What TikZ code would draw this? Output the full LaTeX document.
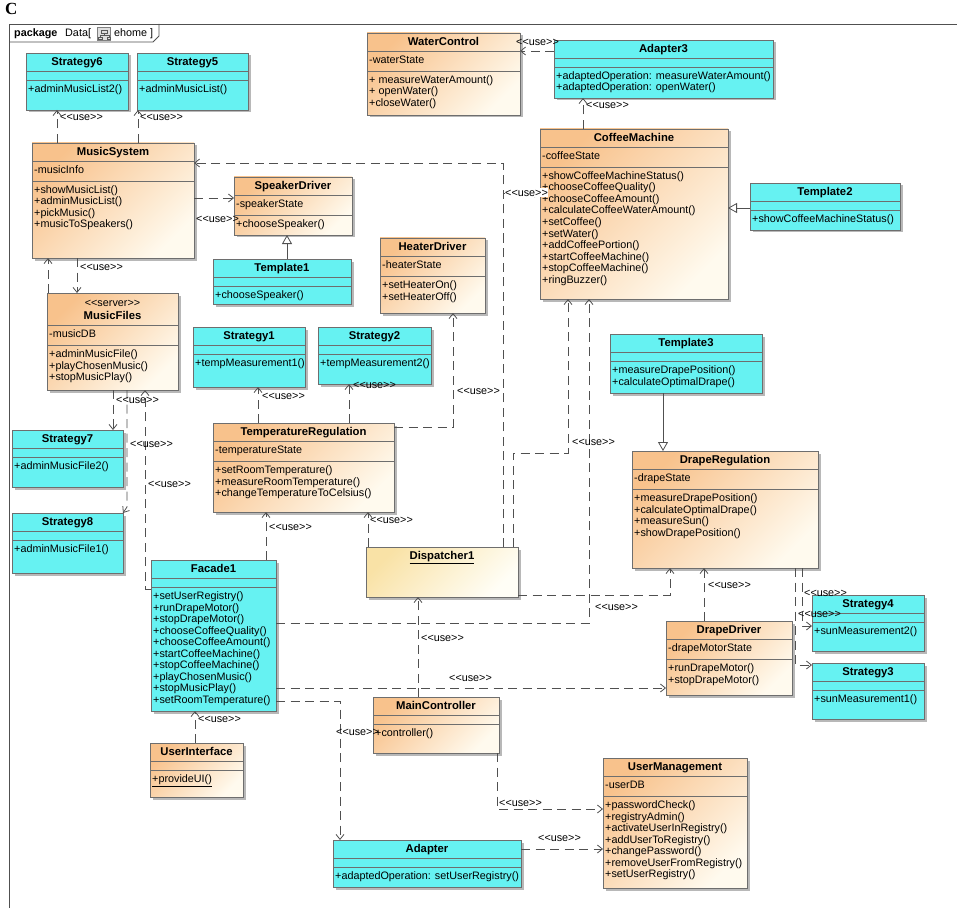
\documentclass[tikz,border=0pt]{standalone}
\usepackage{fontspec}
\newfontfamily\ufont{Liberation Sans}
\newfontfamily\cfont{Liberation Serif}
\usetikzlibrary{arrows.meta,shadows,calc}
\definecolor{ucyan}{HTML}{66F2F2}
\definecolor{uorA}{HTML}{F8C28C}
\definecolor{uorB}{HTML}{FFFAEE}
\definecolor{udA}{HTML}{F9E2A6}
\definecolor{udB}{HTML}{FFFEF6}
\definecolor{bordc}{HTML}{6E6E6E}
\definecolor{linec}{HTML}{505050}
\tikzset{
  boxbase/.style={draw=bordc, line width=0.8pt, inner sep=0pt, outer sep=0pt, anchor=north west,
    drop shadow={shadow xshift=2.5pt, shadow yshift=-2.5pt, fill=black, opacity=0.28}},
  cyanbox/.style={boxbase, fill=ucyan},
  orangebox/.style={boxbase, left color=uorA, right color=uorB, shading angle=45},
  dispbox/.style={boxbase, left color=udA, right color=udB, shading angle=45},
  ttl/.style={inner sep=0pt, font=\ufont\bfseries\fontsize{11.3}{11.5}\selectfont, text height=8pt, text depth=1pt},
  txt/.style={inner sep=0pt, anchor=west, font=\ufont\fontsize{10.8}{11.5}\selectfont, text height=8pt, text depth=1pt},
  lbl/.style={txt},
  sepline/.style={draw=bordc, line width=0.7pt},
  frame/.style={draw=linec, line width=0.9pt},
  dep/.style={draw=linec, line width=0.8pt, dash pattern=on 9pt off 5.5pt, -{Straight Barb[length=5pt,width=8pt]}},
  gen/.style={draw=linec, line width=0.8pt, -{Triangle[open, length=9pt, width=10pt, fill=white]}},
}
\def\ushift{0}
% name, style, x1, y1, x2, y2, title, attribute, operations
\newcommand\uclass[9]{%
  \node[#2, minimum width={(#5-#3)*1pt}, minimum height={(#6-#4)*1pt}] (#1) at (#3,#4) {};
  \node[ttl] (#1-t) at ({(#3+#5)/2},{#4+9+\ushift}) {#7};
  \draw[sepline] (#3,{#4+18+\ushift}) -- (#5,{#4+18+\ushift});
  \if\relax\detokenize{#8}\relax
    \def\usep{27}\def\uop{36}%
  \else
    \node[txt] (#1-a) at ({#3+2},{#4+27+\ushift}) {#8};
    \def\usep{38.5}\def\uop{47}%
  \fi
  \draw[sepline] (#3,{#4+\usep+\ushift}) -- (#5,{#4+\usep+\ushift});
  \foreach \opl [count=\i] in {#9} {\node[txt] (#1-o\i) at ({#3+2},{#4+\uop+\ushift+11.5*(\i-1)}) {\opl};}
}
\begin{document}
\begin{tikzpicture}[x=1pt, y=-1pt]
\useasboundingbox (0,0) rectangle (960,909);
\fill[white] (0,0) rectangle (960,909);
% header
\node[anchor=base west, inner sep=0pt, font=\cfont\bfseries\fontsize{17}{17}\selectfont] (hdr) at (5,15) {C};
\draw[frame] (9,908) -- (9,24) -- (957,24);
\draw[frame] (9,42) -- (153,42) -- (159,36) -- (159,24);
\node[txt] (pk) at (14,33) {\bfseries package};
\node[txt] (pkd) at (65,33) {Data[};
\node[draw=gray, fill=gray!25, line width=0.5pt, anchor=north west, minimum width=13pt, minimum height=13pt, inner sep=0pt] (pkicon) at (97,27) {};
\draw[gray!70!black, line width=0.5pt] (101,30) rectangle (107,33) (104,33) -- (104,35) (100,35) -- (109,35) (100,35) -- (100,37) (109,35) -- (109,37) (98.5,37) rectangle (102,39.5) (107.5,37) rectangle (110.5,39.5);
\node[txt] (pke) at (114,33) {ehome ]};

% classes
\uclass{Strategy6}{cyanbox}{26}{53}{128}{110}{Strategy6}{}{+adminMusicList2()}
\uclass{Strategy5}{cyanbox}{137}{53}{248}{110}{Strategy5}{}{+adminMusicList()}
\uclass{MusicSystem}{orangebox}{32}{143}{194}{258}{MusicSystem}{-musicInfo}{+showMusicList(),+adminMusicList(),+pickMusic(),+musicToSpeakers()}
\uclass{SpeakerDriver}{orangebox}{234}{177}{352}{235}{SpeakerDriver}{-speakerState}{+chooseSpeaker()}
\uclass{Template1}{cyanbox}{213}{259}{351}{304}{Template1}{}{+chooseSpeaker()}
\def\ushift{14}
\uclass{MusicFiles}{orangebox}{47}{293}{178}{390}{MusicFiles}{-musicDB}{+adminMusicFile(),+playChosenMusic(),+stopMusicPlay()}
\def\ushift{0}
\node[txt, anchor=center] (MusicFiles-st) at (112.5,303) {<<server>>};
\uclass{HeaterDriver}{orangebox}{380}{238}{485}{313}{HeaterDriver}{-heaterState}{+setHeaterOn(),+setHeaterOff()}
\uclass{Strategy1}{cyanbox}{193}{327}{305}{387}{Strategy1}{}{+tempMeasurement1()}
\uclass{Strategy2}{cyanbox}{318}{327}{431}{384}{Strategy2}{}{+tempMeasurement2()}
\uclass{TemperatureRegulation}{orangebox}{213}{423}{394}{512}{TemperatureRegulation}{-temperatureState}{+setRoomTemperature(),+measureRoomTemperature(),+changeTemperatureToCelsius()}
\uclass{Strategy7}{cyanbox}{12}{430}{123}{487}{Strategy7}{}{+adminMusicFile2()}
\uclass{Strategy8}{cyanbox}{12}{513}{123}{573}{Strategy8}{}{+adminMusicFile1()}
\uclass{Facade1}{cyanbox}{151}{560}{276}{711}{Facade1}{}{+setUserRegistry(),+runDrapeMotor(),+stopDrapeMotor(),+chooseCoffeeQuality(),+chooseCoffeeAmount(),+startCoffeeMachine(),+stopCoffeeMachine(),+playChosenMusic(),+stopMusicPlay(),+setRoomTemperature()}
\uclass{WaterControl}{orangebox}{367}{33}{520}{115}{WaterControl}{-waterState}{+ measureWaterAmount(),+ openWater(),+closeWater()}
\uclass{Adapter3}{cyanbox}{554}{40}{773}{98}{Adapter3}{}{+adaptedOperation: measureWaterAmount(),+adaptedOperation: openWater()}
\uclass{CoffeeMachine}{orangebox}{540}{129}{728}{299}{CoffeeMachine}{-coffeeState}{+showCoffeeMachineStatus(),+chooseCoffeeQuality(),+chooseCoffeeAmount(),+calculateCoffeeWaterAmount(),+setCoffee(),+setWater(),+addCoffeePortion(),+startCoffeeMachine(),+stopCoffeeMachine(),+ringBuzzer()}
\uclass{Template2}{cyanbox}{750}{183}{900}{230}{Template2}{}{+showCoffeeMachineStatus()}
\uclass{Template3}{cyanbox}{610}{334}{762}{393}{Template3}{}{+measureDrapePosition(),+calculateOptimalDrape()}
\uclass{DrapeRegulation}{orangebox}{632}{451}{818}{568}{DrapeRegulation}{-drapeState}{+measureDrapePosition(),+calculateOptimalDrape(),+measureSun(),+showDrapePosition()}
\node[dispbox, minimum width=152pt, minimum height=50pt] (Dispatcher1) at (366,547) {};
\node[ttl] (Dispatcher1-t) at (442,556) {\underline{Dispatcher1}};
\uclass{DrapeDriver}{orangebox}{666}{621}{792}{695}{DrapeDriver}{-drapeMotorState}{+runDrapeMotor(),+stopDrapeMotor()}
\uclass{Strategy4}{cyanbox}{812}{595}{924}{651}{Strategy4}{}{+sunMeasurement2()}
\uclass{Strategy3}{cyanbox}{812}{663}{924}{719}{Strategy3}{}{+sunMeasurement1()}
\uclass{MainController}{orangebox}{373}{697}{499}{753}{MainController}{}{+controller()}
\uclass{UserInterface}{orangebox}{150}{743}{243}{797}{UserInterface}{}{\underline{+provideUI()}}
\uclass{UserManagement}{orangebox}{603}{758}{747}{888}{UserManagement}{-userDB}{+passwordCheck(),+registryAdmin(),+activateUserInRegistry(),+addUserToRegistry(),+changePassword(),+removeUserFromRegistry(),+setUserRegistry()}
\uclass{Adapter}{cyanbox}{333}{840}{521}{887}{Adapter}{}{+adaptedOperation: setUserRegistry()}

% connectors
\draw[dep] ([xshift=25pt]MusicSystem.north west) -- ([xshift=31pt]Strategy6.south west);
\draw[dep] ([xshift=106pt]MusicSystem.north west) -- ([xshift=1pt]Strategy5.south west);
\draw[dep] ([yshift=-55pt]MusicSystem.north east) -- ([yshift=-21pt]SpeakerDriver.north west);
\draw[gen] ([xshift=74pt]Template1.north west) -- ([xshift=53pt]SpeakerDriver.south west);
\draw[dep] ([xshift=45pt]MusicSystem.south west) -- ([xshift=30pt]MusicFiles.north west);
\draw[dep] ([xshift=1pt]MusicFiles.north west) -- ([xshift=16pt]MusicSystem.south west);
\draw[dep] ([xshift=66pt]MusicFiles.south west) -- ([xshift=101pt]Strategy7.north west);
\draw[dep] ([xshift=80pt]MusicFiles.south west) -- ++(0,117) -- (Strategy8.north east);
\draw[dep] ([yshift=-29pt]Facade1.north west) -| ([xshift=98pt]MusicFiles.south west);
\draw[dep] ([xshift=115pt]Facade1.north west) -- ([xshift=53pt]TemperatureRegulation.south west);
\draw[dep] ([xshift=45pt]TemperatureRegulation.north west) -- ([xshift=65pt]Strategy1.south west);
\draw[dep] ([xshift=136pt]TemperatureRegulation.north west) -- ([xshift=31pt]Strategy2.south west);
\draw[dep] ([yshift=-4pt]TemperatureRegulation.north east) -| ([xshift=73pt]HeaterDriver.south west);
\draw[dep] ([xshift=2pt]Dispatcher1.north west) -- ([xshift=155pt]TemperatureRegulation.south west);
\draw[dep] ([xshift=137pt]Dispatcher1.north west) |- ([yshift=-20pt]MusicSystem.north east);
\draw[dep] ([xshift=137pt]Dispatcher1.north west) |- ([yshift=-64pt]CoffeeMachine.north west);
\draw[dep] ([xshift=147pt]Dispatcher1.north west) -- ++(0,-94) -| ([xshift=28pt]CoffeeMachine.south west);
\draw[dep] ([yshift=-63pt]Facade1.north east) -| ([xshift=49pt]CoffeeMachine.south west);
\draw[dep] ([yshift=-48pt]Dispatcher1.north east) -| ([xshift=38pt]DrapeRegulation.south west);
\draw[dep] ([xshift=38pt]DrapeDriver.north west) -- ([xshift=72pt]DrapeRegulation.south west);
\draw[dep] ([xshift=170pt]DrapeRegulation.south west) |- ([yshift=-31pt]Strategy4.north west);
\draw[dep] ([xshift=163pt]DrapeRegulation.south west) |- ([yshift=-2pt]Strategy3.north west);
\draw[dep] ([yshift=-128pt]Facade1.north east) -- ([yshift=-67pt]DrapeDriver.north west);
\draw[dep] ([xshift=45pt]MainController.north west) -- ([xshift=52pt]Dispatcher1.south west);
\draw[dep] ([yshift=-141pt]Facade1.north east) -| ([xshift=7pt]Adapter.north west);
\draw[dep] ([xshift=-2pt]MainController.south east) |- ([yshift=-51pt]UserManagement.north west);
\draw[dep] ([yshift=-9pt]Adapter.north east) -- ([yshift=-91pt]UserManagement.north west);
\draw[dep] ([xshift=45pt]UserInterface.north west) -- ([xshift=44pt]Facade1.south west);
\draw[gen] ([yshift=-25pt]Template2.north west) -- ([yshift=-79pt]CoffeeMachine.north east);
\draw[gen] ([xshift=53pt]Template3.south west) -- ([xshift=31pt]DrapeRegulation.north west);
\draw[dep] ([xshift=43pt]CoffeeMachine.north west) -- ([xshift=29pt]Adapter3.south west);
\draw[dep] ([yshift=-11pt]Adapter3.north west) -- ([yshift=-18pt]WaterControl.north east);

% labels
\node[lbl] (l1) at (60,117) {<<use>>};
\node[lbl] (l2) at (140,117) {<<use>>};
\node[lbl] (l3) at (196,219) {<<use>>};
\node[lbl] (l5) at (80,267) {<<use>>};
\node[lbl] (l7) at (116,400) {<<use>>};
\node[lbl] (l8) at (130,444) {<<use>>};
\node[lbl] (l9) at (148,484) {<<use>>};
\node[lbl] (l10) at (269,527) {<<use>>};
\node[lbl] (l11) at (262,396) {<<use>>};
\node[lbl] (l12) at (353,385) {<<use>>};
\node[lbl] (l13) at (457,391) {<<use>>};
\node[lbl] (l14) at (370,520) {<<use>>};
\node[lbl, fill=white] (l16) at (505,193) {<<use>>};
\node[lbl] (l17) at (572,442) {<<use>>};
\node[lbl] (l18) at (595,607) {<<use>>};
\node[lbl] (l20) at (708,585) {<<use>>};
\node[lbl] (l21) at (804,593) {<<use>>};
\node[lbl] (l22) at (798,614) {<<use>>};
\node[lbl] (l23) at (449,678) {<<use>>};
\node[lbl] (l24) at (421,638) {<<use>>};
\node[lbl] (l25) at (336,732) {<<use>>};
\node[lbl] (l26) at (499,803) {<<use>>};
\node[lbl] (l27) at (538,838) {<<use>>};
\node[lbl] (l28) at (198,719) {<<use>>};
\node[lbl] (l31) at (586,105) {<<use>>};
\node[lbl] (l32) at (516,42) {<<use>>};
\end{tikzpicture}
\end{document}
